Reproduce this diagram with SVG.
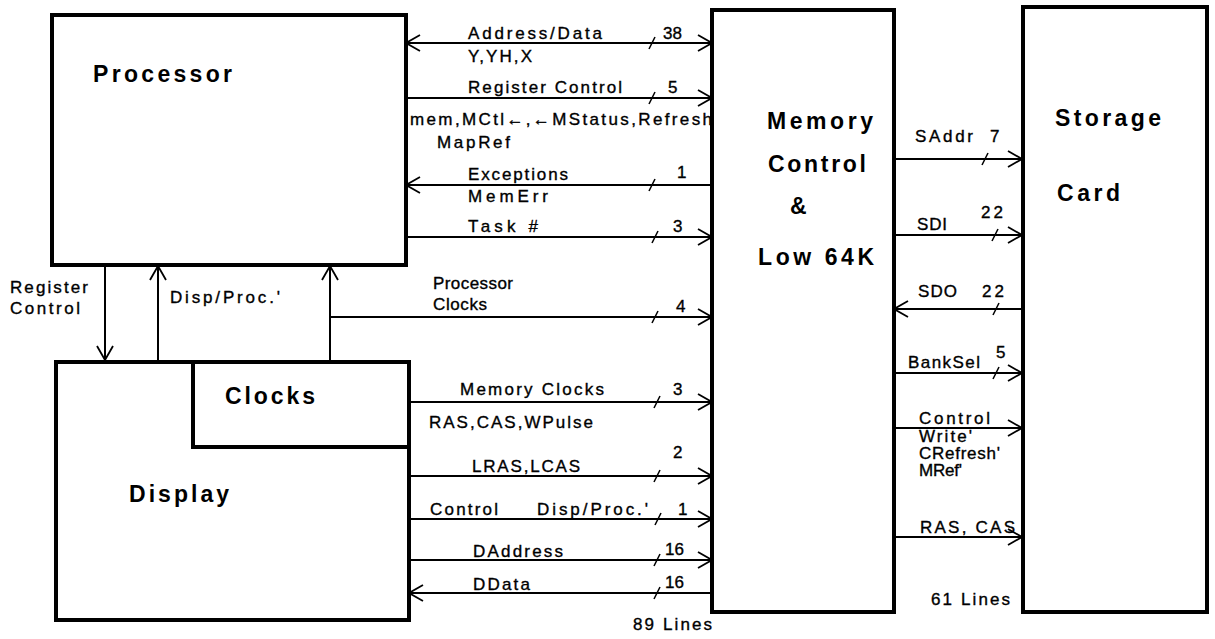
<svg xmlns="http://www.w3.org/2000/svg" width="1215" height="639" viewBox="0 0 1215 639">
<style>
.box{fill:none;stroke:#000;stroke-width:4}
.ln{fill:none;stroke:#000;stroke-width:2}
.sl{fill:none;stroke:#000;stroke-width:1.6}
.t{font-family:"Liberation Sans",Arial,sans-serif;font-size:17px;fill:#000;stroke:#000;stroke-width:0.35}
.h{font-family:"Liberation Sans",Arial,sans-serif;font-size:23px;font-weight:bold;fill:#000}
</style>
<defs>
<marker id="ah" viewBox="0 0 16 18" refX="15" refY="9" markerWidth="16" markerHeight="18" markerUnits="userSpaceOnUse" orient="auto-start-reverse">
<path d="M1,1 L15,9 L1,17" fill="none" stroke="#000" stroke-width="1.8"/>
</marker>
</defs>
<rect width="1215" height="639" fill="#fff"/>

<g id="processor">
<rect class="box" x="52" y="15" width="354" height="250"/>
<text class="h" x="93" y="82" textLength="139" lengthAdjust="spacing">Processor</text>
</g>

<g id="display">
<rect class="box" x="56" y="362" width="353" height="258"/>
<text class="h" x="129" y="502" textLength="100" lengthAdjust="spacing">Display</text>
</g>

<g id="clocks">
<polyline class="box" points="193,362 193,447 409,447"/>
<text class="h" x="225" y="404" textLength="90" lengthAdjust="spacing">Clocks</text>
</g>

<g id="memory">
<rect class="box" x="712" y="10" width="182" height="602"/>
<text class="h" x="767" y="129" textLength="106" lengthAdjust="spacing">Memory</text>
<text class="h" x="768" y="172" textLength="98" lengthAdjust="spacing">Control</text>
<text class="h" x="790" y="214">&amp;</text>
<text class="h" x="758" y="265" textLength="116" lengthAdjust="spacing">Low 64K</text>
</g>

<g id="storage">
<rect class="box" x="1023" y="7" width="184" height="605"/>
<text class="h" x="1055" y="126" textLength="106" lengthAdjust="spacing">Storage</text>
<text class="h" x="1057" y="201" textLength="63" lengthAdjust="spacing">Card</text>
</g>

<g id="connectors">
<line class="ln" x1="406" y1="43" x2="712" y2="43" marker-start="url(#ah)" marker-end="url(#ah)"/>
<line class="sl" x1="649" y1="49" x2="655" y2="37"/>
<line class="ln" x1="406" y1="98" x2="712" y2="98" marker-end="url(#ah)"/>
<line class="sl" x1="649" y1="104" x2="655" y2="92"/>
<line class="ln" x1="712" y1="185" x2="406" y2="185" marker-end="url(#ah)"/>
<line class="sl" x1="649" y1="191" x2="655" y2="179"/>
<line class="ln" x1="406" y1="237" x2="712" y2="237" marker-end="url(#ah)"/>
<line class="sl" x1="652" y1="243" x2="658" y2="231"/>
<line class="ln" x1="330" y1="362" x2="330" y2="266" marker-end="url(#ah)"/>
<line class="ln" x1="330" y1="317" x2="712" y2="317" marker-end="url(#ah)"/>
<line class="sl" x1="652" y1="323" x2="658" y2="311"/>
<line class="ln" x1="105" y1="266" x2="105" y2="360" marker-end="url(#ah)"/>
<line class="ln" x1="158" y1="362" x2="158" y2="266" marker-end="url(#ah)"/>
<line class="ln" x1="409" y1="402" x2="712" y2="402" marker-end="url(#ah)"/>
<line class="sl" x1="654" y1="408" x2="660" y2="396"/>
<line class="ln" x1="409" y1="476" x2="712" y2="476" marker-end="url(#ah)"/>
<line class="sl" x1="654" y1="482" x2="660" y2="470"/>
<line class="ln" x1="409" y1="519" x2="712" y2="519" marker-end="url(#ah)"/>
<line class="sl" x1="655" y1="525" x2="661" y2="513"/>
<line class="ln" x1="409" y1="560" x2="712" y2="560" marker-end="url(#ah)"/>
<line class="sl" x1="654" y1="566" x2="660" y2="554"/>
<line class="ln" x1="712" y1="593" x2="409" y2="593" marker-end="url(#ah)"/>
<line class="sl" x1="654" y1="599" x2="660" y2="587"/>
<line class="ln" x1="894" y1="159" x2="1022" y2="159" marker-end="url(#ah)"/>
<line class="sl" x1="982" y1="165" x2="988" y2="153"/>
<line class="ln" x1="894" y1="235" x2="1022" y2="235" marker-end="url(#ah)"/>
<line class="sl" x1="992" y1="241" x2="998" y2="229"/>
<line class="ln" x1="1022" y1="309" x2="894" y2="309" marker-end="url(#ah)"/>
<line class="sl" x1="993" y1="315" x2="999" y2="303"/>
<line class="ln" x1="894" y1="373" x2="1022" y2="373" marker-end="url(#ah)"/>
<line class="sl" x1="993" y1="379" x2="999" y2="367"/>
<line class="ln" x1="894" y1="428" x2="1022" y2="428" marker-end="url(#ah)"/>
<line class="ln" x1="894" y1="537" x2="1022" y2="537" marker-end="url(#ah)"/>
</g>

<g id="labels">
<text class="t" x="468" y="39" textLength="134" lengthAdjust="spacing">Address/Data</text>
<text class="t" x="663" y="39">38</text>
<text class="t" x="468" y="62" textLength="64" lengthAdjust="spacing">Y,YH,X</text>
<text class="t" x="468" y="93" textLength="154" lengthAdjust="spacing">Register Control</text>
<text class="t" x="668" y="93">5</text>
<text class="t" x="410" y="125" textLength="302" lengthAdjust="spacing">mem,MCtl←,←MStatus,Refresh</text>
<text class="t" x="437" y="148" textLength="73" lengthAdjust="spacing">MapRef</text>
<text class="t" x="468" y="180" textLength="100" lengthAdjust="spacing">Exceptions</text>
<text class="t" x="677" y="178">1</text>
<text class="t" x="468" y="202" textLength="80" lengthAdjust="spacing">MemErr</text>
<text class="t" x="468" y="232" textLength="70" lengthAdjust="spacing">Task #</text>
<text class="t" x="673" y="232">3</text>
<text class="t" x="433" y="289" textLength="80" lengthAdjust="spacing">Processor</text>
<text class="t" x="433" y="310" textLength="54" lengthAdjust="spacing">Clocks</text>
<text class="t" x="676" y="312">4</text>
<text class="t" x="10" y="293" textLength="78" lengthAdjust="spacing">Register</text>
<text class="t" x="10" y="314" textLength="70" lengthAdjust="spacing">Control</text>
<text class="t" x="170" y="303" textLength="110" lengthAdjust="spacing">Disp/Proc.'</text>
<text class="t" x="460" y="395" textLength="144" lengthAdjust="spacing">Memory Clocks</text>
<text class="t" x="673" y="395">3</text>
<text class="t" x="429" y="428" textLength="164" lengthAdjust="spacing">RAS,CAS,WPulse</text>
<text class="t" x="673" y="458">2</text>
<text class="t" x="472" y="472" textLength="108" lengthAdjust="spacing">LRAS,LCAS</text>
<text class="t" x="430" y="515" textLength="68" lengthAdjust="spacing">Control</text>
<text class="t" x="537" y="515" textLength="111" lengthAdjust="spacing">Disp/Proc.'</text>
<text class="t" x="678" y="515">1</text>
<text class="t" x="473" y="557" textLength="90" lengthAdjust="spacing">DAddress</text>
<text class="t" x="665" y="555">16</text>
<text class="t" x="473" y="590" textLength="57" lengthAdjust="spacing">DData</text>
<text class="t" x="665" y="588">16</text>
<text class="t" x="633" y="630" textLength="79" lengthAdjust="spacing">89 Lines</text>
<text class="t" x="915" y="142" textLength="58" lengthAdjust="spacing">SAddr</text>
<text class="t" x="990" y="142">7</text>
<text class="t" x="917" y="230" textLength="30" lengthAdjust="spacing">SDI</text>
<text class="t" x="981" y="218" textLength="22" lengthAdjust="spacing">22</text>
<text class="t" x="918" y="297" textLength="39" lengthAdjust="spacing">SDO</text>
<text class="t" x="982" y="297" textLength="22" lengthAdjust="spacing">22</text>
<text class="t" x="908" y="368" textLength="72" lengthAdjust="spacing">BankSel</text>
<text class="t" x="996" y="358">5</text>
<text class="t" x="919" y="424" textLength="71" lengthAdjust="spacing">Control</text>
<text class="t" x="919" y="442" textLength="53" lengthAdjust="spacing">Write'</text>
<text class="t" x="919" y="459" textLength="81" lengthAdjust="spacing">CRefresh'</text>
<text class="t" x="919" y="476" textLength="43" lengthAdjust="spacing">MRef'</text>
<text class="t" x="920" y="533" textLength="95" lengthAdjust="spacing">RAS, CAS</text>
<text class="t" x="931" y="605" textLength="79" lengthAdjust="spacing">61 Lines</text>
</g>
</svg>
